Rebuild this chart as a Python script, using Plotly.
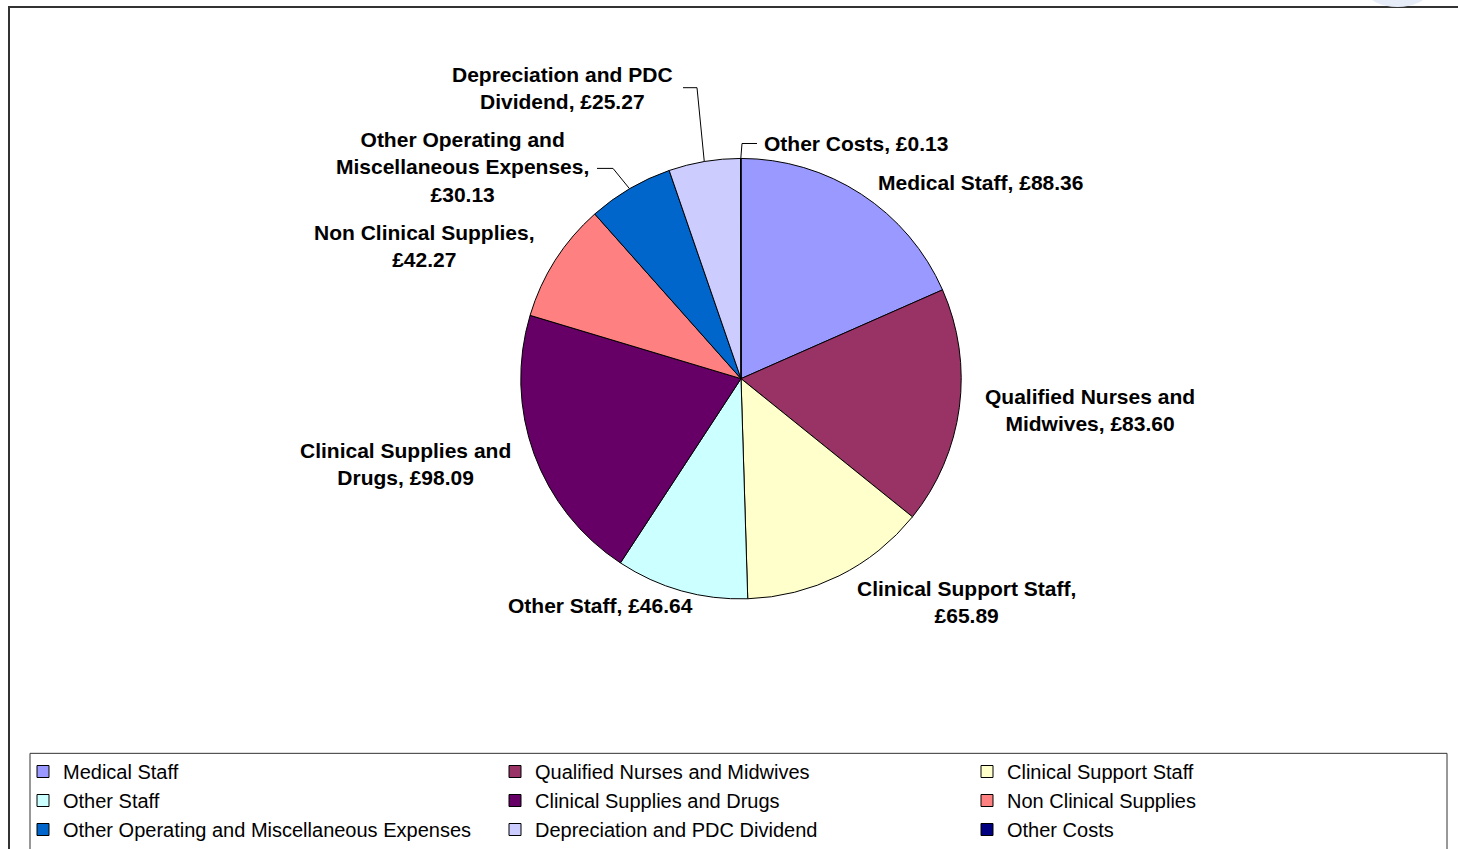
import math
import plotly.graph_objects as go

# ---- data ----
categories = [
    "Medical Staff",
    "Qualified Nurses and Midwives",
    "Clinical Support Staff",
    "Other Staff",
    "Clinical Supplies and Drugs",
    "Non Clinical Supplies",
    "Other Operating and Miscellaneous Expenses",
    "Depreciation and PDC Dividend",
    "Other Costs",
]
values = [88.36, 83.60, 65.89, 46.64, 98.09, 42.27, 30.13, 25.27, 0.13]

# ---- styles ----
colors = ["#9999FF", "#993366", "#FFFFCC", "#CCFFFF", "#660066",
          "#FF8080", "#0066CC", "#CCCCFF", "#000080"]

W, H = 1458, 849
CX, CY, R = 741, 380, 221

def px(x, y):
    return x / W, 1 - y / H

# label wrapping templates and label centres (pixels)
label_templates = [
    "{c}, {v}",
    "Qualified Nurses and<br>Midwives, {v}",
    "Clinical Support Staff,<br>{v}",
    "{c}, {v}",
    "Clinical Supplies and<br>Drugs, {v}",
    "Non Clinical Supplies,<br>{v}",
    "Other Operating and<br>Miscellaneous Expenses,<br>{v}",
    "Depreciation and PDC<br>Dividend, {v}",
    "{c}, {v}",
]
label_pos = [(980, 183), (1090, 411), (967, 604), (600, 608), (405, 466),
             (424, 247), (462, 168), (562, 88), (856, 144)]

fig = go.Figure()
fig.add_trace(go.Pie(
    labels=categories,
    values=values,
    sort=False,
    direction="clockwise",
    rotation=0,
    textinfo="none",
    marker=dict(colors=colors, line=dict(color="black", width=1)),
    domain=dict(x=[(CX - R) / W, (CX + R) / W], y=[1 - (CY + R) / H, 1 - (CY - R) / H]),
    showlegend=True,
))

annotations = []
for c, v, tpl, (x, y) in zip(categories, values, label_templates, label_pos):
    ax, ay = px(x, y)
    annotations.append(dict(
        x=ax, y=ay, xref="paper", yref="paper", xanchor="center", yanchor="middle",
        text="<b>" + tpl.format(c=c, v=f"£{v:.2f}") + "</b>",
        showarrow=False, align="center",
        font=dict(family="Liberation Sans, Arial", size=21, color="black"),
    ))

# leader line end points from slice mid angles
total = sum(values)
cum = 0
mid_pts = []
for v in values:
    mid = (cum + v / 2) / total * 2 * math.pi
    mid_pts.append((CX + R * math.sin(mid), CY - R * math.cos(mid)))
    cum += v

def path(points):
    s = ""
    for i, (x, y) in enumerate(points):
        X, Y = px(x, y)
        s += ("M" if i == 0 else "L") + f"{X},{Y} "
    return s

shapes = []
# leaders: depreciation, other costs, other operating
leaders = {
    7: [(683, 88), (697, 88)],
    8: [(757, 144), (742, 144)],
    6: [(597, 169), (613, 169)],
}
for idx, pts in leaders.items():
    shapes.append(dict(type="path", xref="paper", yref="paper",
                       path=path(pts + [mid_pts[idx]]),
                       line=dict(color="black", width=1)))

# outer chart border
x0, y0 = px(9, 7)
x1, y1 = px(1470, 880)
shapes.append(dict(type="rect", xref="paper", yref="paper", x0=x0, y0=y1, x1=x1, y1=y0,
                   line=dict(color="#333333", width=2), layer="below"))
# legend box
x0, y0 = px(30, 756)
x1, y1 = px(1447, 880)
shapes.append(dict(type="rect", xref="paper", yref="paper", x0=x0, y0=y1, x1=x1, y1=y0,
                   line=dict(color="#333333", width=1), layer="below"))
# faint blob top right
x0, y0 = px(1367, -25)
x1, y1 = px(1428, 7)
shapes.append(dict(type="circle", xref="paper", yref="paper", x0=x0, y0=y1, x1=x1, y1=y0,
                   fillcolor="#E6EDF8", line=dict(width=0), layer="below"))

lx, ly = px(23, 755)
fig.update_layout(
    width=W, height=H,
    margin=dict(l=0, r=0, t=0, b=0),
    paper_bgcolor="white", plot_bgcolor="white",
    annotations=annotations,
    shapes=shapes,
    legend=dict(
        orientation="h", x=lx, y=ly, xanchor="left", yanchor="top",
        entrywidth=427, entrywidthmode="pixels",
        font=dict(family="Liberation Sans, Arial", size=20, color="black"),
        traceorder="normal", bgcolor="rgba(0,0,0,0)",
        itemclick=False, itemdoubleclick=False,
    ),
)

fig.write_html("out.html")
